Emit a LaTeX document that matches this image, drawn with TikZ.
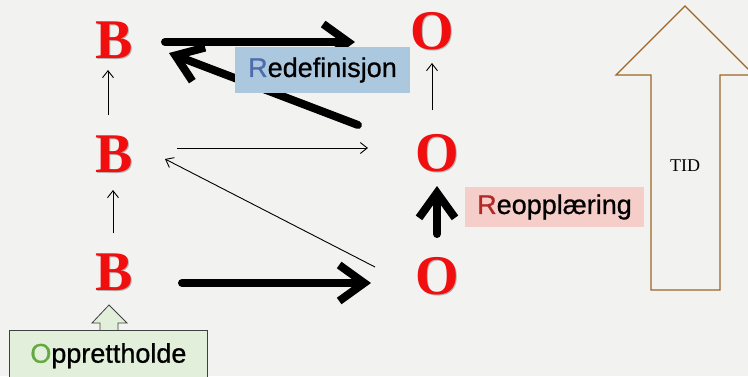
\documentclass[tikz,border=0pt]{standalone}
\usepackage{fontspec}
\setmainfont{Liberation Serif}
\newfontfamily\lsans[FakeBold=0.8]{Liberation Sans}
\usetikzlibrary{arrows.meta}
\definecolor{paper}{RGB}{242,242,240}
\definecolor{letterred}{RGB}{240,14,14}
\definecolor{boxblue}{RGB}{172,200,222}
\definecolor{rblue}{RGB}{78,108,172}
\definecolor{boxpink}{RGB}{245,206,202}
\definecolor{rred}{RGB}{178,40,40}
\definecolor{boxgreen}{RGB}{226,239,218}
\definecolor{ogreen}{RGB}{100,168,64}
\definecolor{tidbrown}{RGB}{156,102,40}
\tikzset{
  letter/.style={inner sep=0pt, anchor=base, text=letterred,
    font=\fontsize{56}{56}\selectfont\bfseries},
  lettershadow/.style={inner sep=0pt, anchor=base, text=black, opacity=0.25,
    font=\fontsize{56}{56}\selectfont\bfseries},
  thin arrow/.style={line width=0.9pt, -{Straight Barb[length=7pt,width=11pt]}},
  thick arrow/.style={line width=8pt, line cap=round, line join=round,
    -{Straight Barb[length=25pt,width=36pt]}},
  labelbox/.style={inner sep=0pt, font=\lsans\fontsize{27}{27}\selectfont},
}
\begin{document}
\begin{tikzpicture}[x=1pt,y=-1pt]
  \fill[paper] (0,0) rectangle (748,376);
  \useasboundingbox (0,0) rectangle (748,376);
  \clip (0,0) rectangle (748,376);

  % soft shadows under the red letters
  \foreach \px/\py/\ch in {115.5/59.5/B,115.5/173.5/B,115.5/291.5/B,
                           433.5/50.5/O,438.5/172.5/O,438.5/295.5/O}
    \node[lettershadow] at (\px,\py) {\ch};

  % B column and O column
  \node[letter] (b1) at (114,58)  {B};
  \node[letter] (b2) at (114,172) {B};
  \node[letter] (b3) at (114,290) {B};
  \node[letter] (o1) at (432,49)  {O};
  \node[letter] (o2) at (437,171) {O};
  \node[letter] (o3) at (437,294) {O};

  % thin arrows
  \draw[thin arrow] ([shift={(-1,-57)}]b3.base) -- ([shift={(-1,18)}]b2.base);
  \draw[thin arrow] ([shift={(-6,-57)}]b2.base) -- ([shift={(-6,12)}]b1.base);
  \draw[thin arrow] ([shift={(-5,-61)}]o2.base) -- ([shift={(0,14)}]o1.base);
  \draw[thin arrow] ([shift={(63,-24)}]b2.base) -- ([shift={(-69,-23)}]o2.base);
  \draw[thin arrow] ([shift={(-62,-27)}]o3.base) -- ([shift={(51,-13)}]b2.base);

  % thick arrows
  \draw[thick arrow] ([shift={(51,-16)}]b1.base) -- ([shift={(-77,-7)}]o1.base);
  \draw[thick arrow] ([shift={(-79,-46)}]o2.base) -- ([shift={(55,-5)}]b1.base);
  \draw[thick arrow] ([shift={(68,-7)}]b3.base) -- ([shift={(-66,-11)}]o3.base);
  \draw[thick arrow] ([shift={(0,-60)}]o3.base) -- ([shift={(0,15)}]o2.base);

  % labels
  \node[labelbox, fill=boxblue, minimum width=175pt, minimum height=46pt]
    (redef) at (322.5,70) {\textcolor{rblue}{R}edefinisjon};
  \node[labelbox, fill=boxpink, minimum width=179pt, minimum height=40pt]
    (reopp) at (554.5,207) {\textcolor{rred}{R}eopplæring};

  % block arrow above the green box
  \draw[fill=boxgreen, draw=black!75, line width=0.8pt]
    (100,331) -- (100,323) -- (92,323) -- (109,305) -- (127,323) -- (118,323) -- (118,331);
  \node[labelbox, fill=boxgreen, draw=black!75, line width=0.8pt,
    minimum width=198pt, minimum height=54pt, anchor=north west, text depth=0pt]
    (oppr) at (9,330) {\raisebox{9pt}{\textcolor{ogreen}{O}pprettholde}};

  % time arrow
  \draw[tidbrown, line width=1.4pt, line join=miter, fill=paper]
    (651,290) -- (651,75) -- (616,75) -- (685,6) -- (754,75) -- (720,75) -- (720,290) -- cycle;
  \node[inner sep=0pt, font=\fontsize{18}{18}\selectfont] (tid) at (685,166) {TID};
\end{tikzpicture}
\end{document}
